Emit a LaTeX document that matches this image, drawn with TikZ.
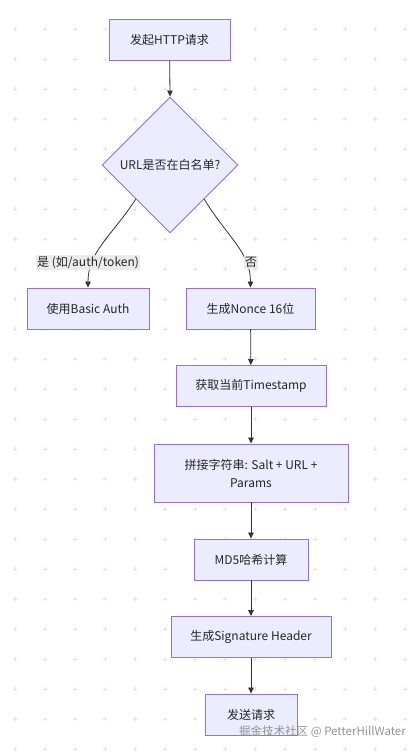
\documentclass[tikz,border=0pt]{standalone}
\usepackage{fontspec}
\setmainfont{Noto Sans CJK SC}
\usetikzlibrary{shapes.geometric,arrows.meta}
\definecolor{boxfill}{HTML}{ECECFF}
\definecolor{boxline}{HTML}{9370DB}
\definecolor{edgec}{HTML}{333333}
\definecolor{lblbg}{HTML}{E8E8E8}
\definecolor{gridc}{HTML}{E2E2E2}
\begin{document}
\begin{tikzpicture}[x=1pt,y=-1pt,
  box/.style={draw=boxline, fill=boxfill, line width=0.9pt, minimum height=41pt, inner sep=0pt,
    font=\fontsize{12}{18}\selectfont, text=black!85, align=center},
  dia/.style={diamond, aspect=1, draw=boxline, fill=boxfill, line width=0.9pt, minimum width=136pt,
    minimum height=136pt, inner sep=0pt, font=\fontsize{12}{18}\selectfont, text=black!85},
  arr/.style={draw=edgec, line width=0.8pt, -{Triangle[length=6pt,width=5.5pt]}},
  lbl/.style={fill=lblbg, fill opacity=0.85, text opacity=1, inner sep=1.2pt, text=black!85,
    font=\fontsize{12}{14}\selectfont}
]
\useasboundingbox (0,0) rectangle (420,752);
\fill[white] (0,0) rectangle (420,752);
\foreach \x in {15,45,...,405} \foreach \y in {29,59,...,749}
  \draw[gridc, line width=0.5pt] (\x-1.8,\y) -- (\x+1.8,\y) (\x,\y-1.8) -- (\x,\y+1.8);

\node[box, minimum width=121pt] (start) at (169.5,39.5) {发起HTTP请求};
\node[dia] (d) at (170,165) {URL是否在白名单?};
\node[box, minimum width=122pt] (basic) at (88,308.5) {使用Basic Auth};
\node[box, minimum width=129pt] (nonce) at (250.5,308.5) {生成Nonce 16位};
\node[box, minimum width=150pt] (ts) at (251,386) {获取当前Timestamp};
\node[box, minimum width=194pt, minimum height=58pt] (cat) at (251,473) {拼接字符串: Salt + URL +\\Params};
\node[box, minimum width=114pt] (md5) at (251,559.5) {MD5哈希计算};
\node[box, minimum width=160pt] (sig) at (251,637) {生成Signature Header};
\node[box, minimum width=92pt] (send) at (251,714.5) {发送请求};

\draw[arr] (start) -- (d.north);
\draw[arr] (d.south west) .. controls (110,238) and (88,252) .. (basic.north);
\draw[arr] (d.south east) .. controls (228,238) and (250.5,252) .. (nonce.north);
\node[lbl] (ly) at (88,262.5) {是 (如/auth/token)};
\node[lbl] (ln) at (251,262.5) {否};
\draw[arr] (nonce) -- (ts);
\draw[arr] (ts) -- (cat);
\draw[arr] (cat) -- (md5);
\draw[arr] (md5) -- (sig);
\draw[arr] (sig) -- (send);

\node[anchor=east, text=gray!85, font=\fontsize{11.5}{13}\selectfont, inner sep=0pt] (wm) at (406,732) {掘金技术社区 @ PetterHillWater};
\end{tikzpicture}
\end{document}
